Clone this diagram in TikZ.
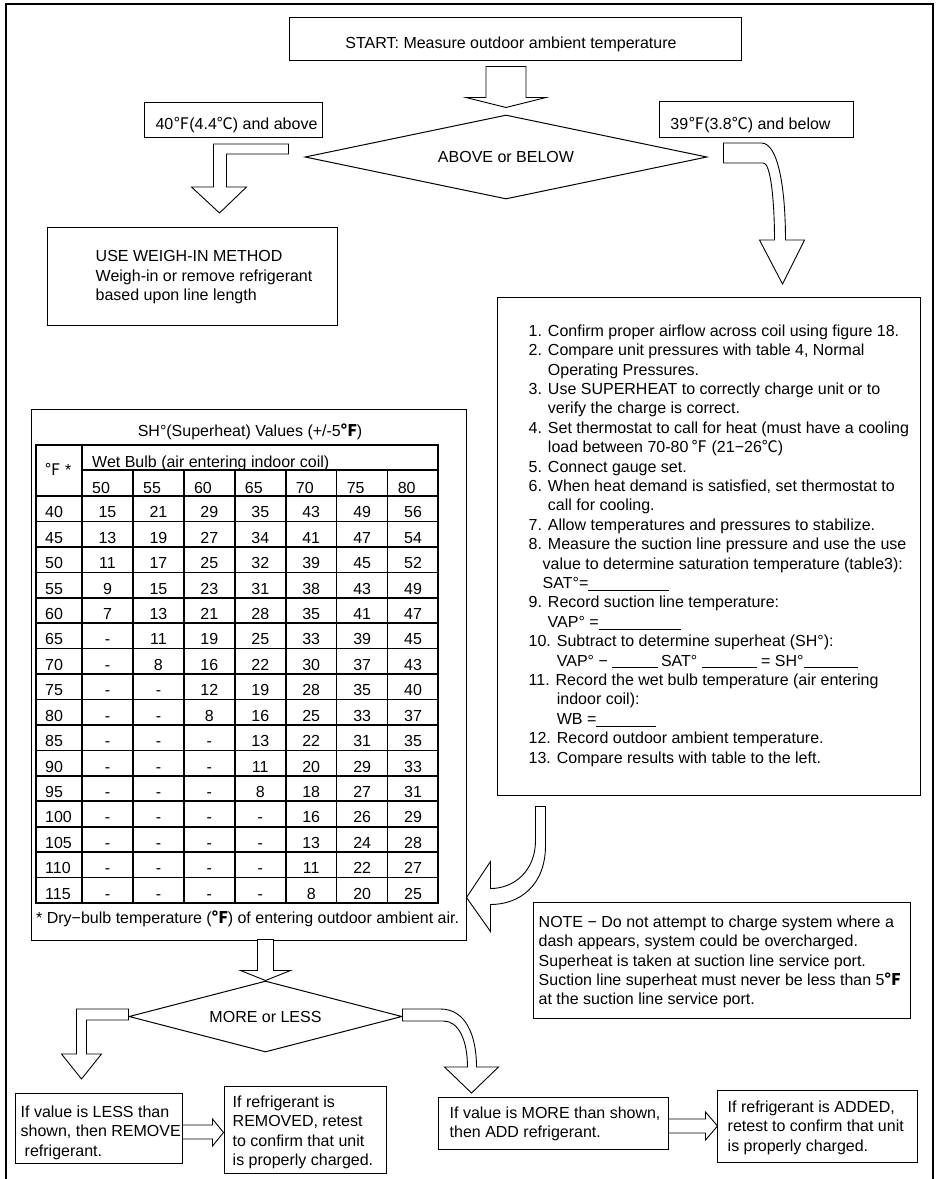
\documentclass[tikz,border=0pt]{standalone}
\usepackage{fontspec}
\setmainfont{Liberation Sans}
\newfontfamily\cjkdeg{Noto Sans CJK SC}
\usetikzlibrary{positioning,shapes.geometric}
\newcommand{\fahr}{{\cjkdeg ℉}}
\newcommand{\cels}{{\cjkdeg ℃}}
\newcommand{\fahrb}{{\cjkdeg\bfseries ℉}}
\newcommand{\blank}[1]{\rule[-2pt]{#1pt}{0.8pt}}

\begin{document}
\begin{tikzpicture}[x=1pt, y=-1pt,
  box/.style={rectangle, draw, line width=1pt, inner sep=0pt},
  dec/.style={diamond, draw, line width=1pt, inner sep=0pt,
              font=\fontsize{16}{19.4}\selectfont},
  txt/.style={inner sep=0pt, align=left, font=\fontsize{16}{19.4}\selectfont},
  barrow/.style={draw, fill=white, line width=0.9pt, line join=miter},
  tabline/.style={line width=1.6pt}
]
  \useasboundingbox (0,0) rectangle (938,1179);
  \draw[line width=1.2pt] (6,1179) -- (6,4) -- (933,4) -- (933,1179);

  % top part
  \node[box, minimum width=452pt, minimum height=43pt] (start) at (515,38.5) {};
  \node[txt, anchor=base] (starttxt) at (511,48.8)
        {START: Measure outdoor ambient temperature};

  \node[dec, aspect=4.8, minimum width=402pt, minimum height=84pt] (abdec) at (506,157)
        {ABOVE or BELOW};

  \node[box, minimum width=178pt, minimum height=35pt] (hi) at (233,119.5) {};
  \node[txt, anchor=base] (hitxt) at (236.5,129.7) {40\fahr(4.4\cels) and above};
  \node[box, minimum width=194pt, minimum height=36pt] (lo) at (756,119) {};
  \node[txt, anchor=base] (lotxt) at (750.5,129.7) {39\fahr(3.8\cels) and below};

  \node[box, minimum width=290pt, minimum height=98pt] (weigh) at (192,276) {};
  \node[txt, below right=24pt and 49pt of weigh.north west] (weightxt)
        {USE WEIGH-IN METHOD\\Weigh-in or remove refrigerant\\based upon line length};

  \node[box, minimum width=423pt, minimum height=498pt] (steps) at (708.5,546) {};
  \node[txt, below right=28pt and 32pt of steps.north west] (stepstxt) {%
    1. Confirm proper airflow across coil using figure 18.\\
    2. Compare unit pressures with table 4, Normal\\
    \phantom{1. }Operating Pressures.\\
    3. Use SUPERHEAT to correctly charge unit or to\\
    \phantom{1. }verify the charge is correct.\\
    4. Set thermostat to call for heat (must have a cooling\\
    \phantom{1. }load between 70-80\,\fahr\ (21−26\cels)\\
    5. Connect gauge set.\\
    6. When heat demand is satisfied, set thermostat to\\
    \phantom{1. }call for cooling.\\
    7. Allow temperatures and pressures to stabilize.\\
    8. Measure the suction line pressure and use the use\\
    \hspace*{14pt}value to determine saturation temperature (table3):\\
    \hspace*{14pt}SAT°=\blank{81}\\
    9. Record suction line temperature:\\
    \hspace*{19pt}VAP° =\blank{82}\\
    10. Subtract to determine superheat (SH°):\\
    \phantom{10. }VAP° − \blank{46}\,SAT° \blank{55} = SH°\blank{54}\\
    11. Record the wet bulb temperature (air entering\\
    \phantom{10. }indoor coil):\\
    \phantom{10. }WB =\blank{60}\\
    12. Record outdoor ambient temperature.\\
    13. Compare results with table to the left.};

  % superheat table
  \node[box, minimum width=435pt, minimum height=531pt] (shtab) at (248.5,674.5) {};
  \node[txt, anchor=base] (shtitle) at (250,436.7) {SH°(Superheat) Values (+/-5\fahrb)};
  \draw[tabline] (36,445) rectangle (438,903);
  \draw[tabline] (82,445) -- (82,903);
  \draw[tabline] (82,470) -- (438,470);
  \foreach \k in {0,...,15}
    \draw[tabline] (36,{496+25.44*\k}) -- (438,{496+25.44*\k});
  \foreach \k in {1,...,6}
    \draw[tabline] ({82+50.93*\k},470) -- ({82+50.93*\k},903);
  \node[txt] (hdeg) at (58,469) {\fahr\ *};
  \node[txt, anchor=base west] (hwet) at (92,467) {Wet Bulb (air entering indoor coil)};
  \foreach \w [count=\k from 0] in {50,55,...,80}
    \node[txt, anchor=base west] (wb\w) at ({92+50.93*\k},493) {\w};
  \foreach \row [count=\r from 0] in {
      {40,15,21,29,35,43,49,56}, {45,13,19,27,34,41,47,54},
      {50,11,17,25,32,39,45,52}, {55,9,15,23,31,38,43,49},
      {60,7,13,21,28,35,41,47},  {65,-,11,19,25,33,39,45},
      {70,-,8,16,22,30,37,43},   {75,-,-,12,19,28,35,40},
      {80,-,-,8,16,25,33,37},    {85,-,-,-,13,22,31,35},
      {90,-,-,-,11,20,29,33},    {95,-,-,-,8,18,27,31},
      {100,-,-,-,-,16,26,29},    {105,-,-,-,-,13,24,28},
      {110,-,-,-,-,11,22,27},    {115,-,-,-,-,8,20,25}}
    \foreach \v [count=\c] in \row {
      \ifnum\c=1
        \node[txt, anchor=base west] (v\r-\c) at (45,{517.7+25.44*\r}) {\v};
      \else
        \node[txt, anchor=base] (v\r-\c) at ({107.5+50.93*(\c-2)},{517.7+25.44*\r}) {\v};
      \fi
    };
  \node[txt, anchor=base west] (shfoot) at (36,923.7)
        {* Dry−bulb temperature (\fahrb) of entering outdoor ambient air.};

  \node[box, minimum width=377pt, minimum height=116pt] (note) at (721.5,960) {};
  \node[txt, below right=14pt and 6pt of note.north west] (notetxt)
        {NOTE − Do not attempt to charge system where a\\
         dash appears, system could be overcharged.\\
         Superheat is taken at suction line service port.\\
         Suction line superheat must never be less than 5\fahrb\\
         at the suction line service port.};

  % bottom part
  \node[dec, aspect=3.85, minimum width=273pt, minimum height=71pt] (mldec) at (265.5,1016.5)
        {MORE or LESS};

  \node[box, minimum width=167pt, minimum height=70pt] (less) at (98.5,1128) {};
  \node[txt, below right=13pt and 6pt of less.north west] (lesstxt)
        {If value is LESS than\\shown, then REMOVE\\\hspace*{4pt}refrigerant.};
  \node[box, minimum width=162pt, minimum height=87pt] (removed) at (305,1129.5) {};
  \node[txt, below right=10pt and 9pt of removed.north west] (removedtxt)
        {If refrigerant is\\REMOVED, retest\\to confirm that unit\\is properly charged.};
  \node[box, minimum width=230pt, minimum height=52pt] (more) at (553,1123) {};
  \node[txt, below right=10pt and 12pt of more.north west] (moretxt)
        {If value is MORE than shown,\\then ADD refrigerant.};
  \node[box, minimum width=200pt, minimum height=72pt] (added) at (817,1126) {};
  \node[txt, below right=11pt and 11pt of added.north west] (addedtxt)
        {If refrigerant is ADDED,\\retest to confirm that unit\\is properly charged.};

  % block arrows
  \draw[barrow] (abdec.north) ++(0,-7) -- ++(-40,-10) -- ++(20,0) -- ++(0,-31)
        -- ++(40,0) -- ++(0,31) -- ++(20,0) -- cycle;
  \draw[barrow] (abdec.west) ++(-16,-13) -- ++(-75,0) -- ++(0,43) -- ++(-22,0)
        -- ++(28,26) -- ++(27,-26) -- ++(-20,0) -- ++(0,-33) -- ++(62,0) -- cycle;
  \draw[barrow, shift={(abdec.east)}] (16,-14) -- (54,-14)
        .. controls (71,-14) and (78,33) .. (78,83) -- (97,83) -- (75,127) -- (52,83)
        -- (67,83) .. controls (67,43) and (63,6) .. (56,6) -- (16,6) -- cycle;
  \draw[barrow, shift={(steps.south west)}] (39,11) -- (49,11) -- (49,50)
        .. controls (49,90) and (23,109) .. (-6,109) -- (-6,136) -- (-30,102) -- (-6,66)
        -- (-6,93) .. controls (18,93) and (39,75) .. (39,45) -- cycle;
  \draw[barrow] (mldec.north) -- ++(-25,-10) -- ++(17,0) -- ++(0,-31) -- ++(16,0)
        -- ++(0,31) -- ++(17,0) -- cycle;
  \draw[barrow] (mldec.west) ++(0,-7.5) -- ++(-52,0) -- ++(0,45) -- ++(-15,0)
        -- ++(20,25) -- ++(20,-25) -- ++(-15,0) -- ++(0,-34) -- ++(42,0) -- cycle;
  \draw[barrow, shift={(mldec.east)}] (0,-7.5) -- (38,-7.5)
        .. controls (63,-7.5) and (74,18.5) .. (74,50.5) -- (96,50.5) -- (69,76.5)
        -- (42,50.5) -- (65,50.5) .. controls (65,23.5) and (56,4.5) .. (41,4.5)
        -- (0,4.5) -- cycle;
  \draw[barrow] (less.east) ++(0,-3) -- ++(30,0) -- ++(0,-6) -- ++(11,13.5)
        -- ++(-11,13.5) -- ++(0,-7) -- ++(-30,0) -- cycle;
  \draw[barrow] (more.east) ++(0,-4) -- ++(37,0) -- ++(0,-7) -- ++(12,14)
        -- ++(-12,14) -- ++(0,-7) -- ++(-37,0) -- cycle;
\end{tikzpicture}
\end{document}
